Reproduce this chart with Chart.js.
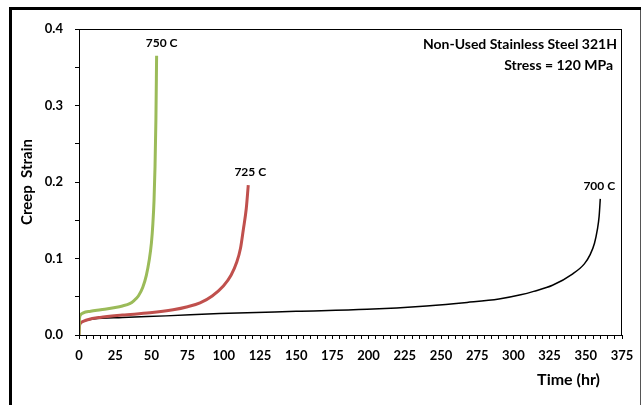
<!DOCTYPE html>
<html>
<head>
<meta charset="utf-8">
<script src="https://cdn.jsdelivr.net/npm/chart.js@4.4.1/dist/chart.umd.min.js"></script>
<style>
html,body{margin:0;padding:0;background:#fff;}
#wrap{position:relative;width:643px;height:405px;}
</style>
</head>
<body>
<div id="wrap"><canvas id="c" width="643" height="405"></canvas></div>
<script>
// ---- data ----
const seriesNames = ['750 C', '725 C', '700 C'];
const time750 = [0, 0.3, 1, 3, 8, 15, 25, 30, 35, 38, 41, 44, 46.5, 48.5, 50, 51, 51.8, 52.5, 53.1, 53.6];
const strain750 = [0, 0.020, 0.026, 0.029, 0.031, 0.033, 0.036, 0.038, 0.041, 0.045, 0.051, 0.062, 0.078, 0.098, 0.120, 0.145, 0.175, 0.220, 0.280, 0.365];
const time725 = [0, 0.3, 2, 6, 14.5, 30, 49, 65, 75, 83.6, 92, 99.7, 105, 108.9, 111.5, 113.5, 115.5, 116.9];
const strain725 = [0, 0.012, 0.017, 0.020, 0.023, 0.026, 0.029, 0.033, 0.037, 0.042, 0.051, 0.064, 0.078, 0.095, 0.113, 0.138, 0.165, 0.196];
const time700 = [0, 0.5, 3, 10, 30, 60, 97, 150, 199, 240, 268, 290, 305, 314, 327, 341, 349, 353, 356, 358, 359.2, 360];
const strain700 = [0, 0.012, 0.018, 0.021, 0.023, 0.025, 0.028, 0.031, 0.0336, 0.038, 0.0425, 0.047, 0.0525, 0.057, 0.065, 0.080, 0.093, 0.105, 0.120, 0.138, 0.155, 0.178];
const xTickLabels = [0, 25, 50, 75, 100, 125, 150, 175, 200, 225, 250, 275, 300, 325, 350, 375];
const yTickLabels = [0.0, 0.1, 0.2, 0.3, 0.4];
const titleLines = ['Non-Used Stainless Steel 321H', 'Stress = 120 MPa'];
const xTitle = 'Time (hr)';
const yTitle = 'Creep  Strain';

const FONT = 'Lato, "Liberation Sans", sans-serif';
const pts = (xs, ys) => xs.map((x, i) => ({x: x, y: ys[i]}));

const colors = ['#9BBB59', '#C0504D', '#000000'];
const widths = [3, 3, 1.5];
const labelShift = [5, 2, -1];
const times = [time750, time725, time700];
const strains = [strain750, strain725, strain700];

const datasets = seriesNames.map((n, i) => ({
  label: n,
  data: pts(times[i], strains[i]),
  borderColor: colors[i],
  backgroundColor: colors[i],
  borderWidth: widths[i],
  pointRadius: 0,
  fill: false,
  cubicInterpolationMode: 'monotone'
}));

const decor = {
  id: 'decor',
  afterDraw(chart) {
    const ctx = chart.ctx, a = chart.chartArea;
    const xs = chart.scales.x, ys = chart.scales.y;
    ctx.save();
    // outer frame
    ctx.fillStyle = '#000';
    ctx.fillRect(10, 7, 631, 3);
    ctx.fillRect(9, 7, 3, 398);
    ctx.fillStyle = '#555';
    ctx.fillRect(640, 10, 1, 395);
    // plot border
    ctx.strokeStyle = '#000';
    ctx.lineWidth = 1;
    ctx.strokeRect(Math.round(a.left) + 0.5, Math.round(a.top) + 0.5, Math.round(a.right - a.left) - 1, Math.round(a.bottom - a.top));
    // series end labels
    ctx.fillStyle = '#000';
    ctx.font = 'bold 12px ' + FONT;
    ctx.textAlign = 'center';
    ctx.textBaseline = 'middle';
    seriesNames.forEach((n, i) => {
      const t = times[i][times[i].length - 1];
      const s = strains[i][strains[i].length - 1];
      ctx.fillText(n, xs.getPixelForValue(t) + labelShift[i], ys.getPixelForValue(s) - 13);
    });
    // title block (top right)
    ctx.font = 'bold 14px ' + FONT;
    ctx.textAlign = 'right';
    ctx.textBaseline = 'middle';
    ctx.fillText(titleLines[0], a.right - 5, a.top + 15);
    ctx.fillText(titleLines[1], a.right - 9, a.top + 36);
    // x axis title
    ctx.font = 'bold 16px ' + FONT;
    ctx.textAlign = 'right';
    ctx.fillText(xTitle, 600, 380);
    ctx.restore();
  }
};

new Chart(document.getElementById('c'), {
  type: 'line',
  data: { datasets },
  options: {
    responsive: false,
    animation: false,
    layout: { padding: { left: 0, top: 29, right: 21, bottom: 0 } },
    plugins: { legend: { display: false }, tooltip: { enabled: false } },
    scales: {
      x: {
        type: 'linear', min: 0, max: 375,
        afterFit: s => { s.height = 70; },
        ticks: {
          stepSize: 5, autoSkip: false, maxRotation: 0, padding: 9,
          color: '#000', font: { family: FONT, size: 13, weight: 'bold' },
          callback: v => (xTickLabels.includes(v) ? String(v) : '')
        },
        grid: { drawOnChartArea: false, tickLength: 4, color: '#000' },
        border: { display: true, color: '#000' }
      },
      y: {
        type: 'linear', min: 0, max: 0.4,
        afterFit: s => { s.width = 79; },
        ticks: {
          stepSize: 0.05, autoSkip: false, padding: 12,
          color: '#000', font: { family: FONT, size: 13, weight: 'bold' },
          callback: v => {
            const m = yTickLabels.find(t => Math.abs(t - v) < 1e-6);
            return m !== undefined ? m.toFixed(1) : '';
          }
        },
        grid: { drawOnChartArea: false, tickLength: 4, color: '#000' },
        border: { display: true, color: '#000' },
        title: { display: true, text: yTitle, color: '#000', font: { family: FONT, size: 15, weight: 'bold' }, padding: { top: 18, bottom: 0 } }
      }
    }
  },
  plugins: [decor]
});
</script>
</body>
</html>
